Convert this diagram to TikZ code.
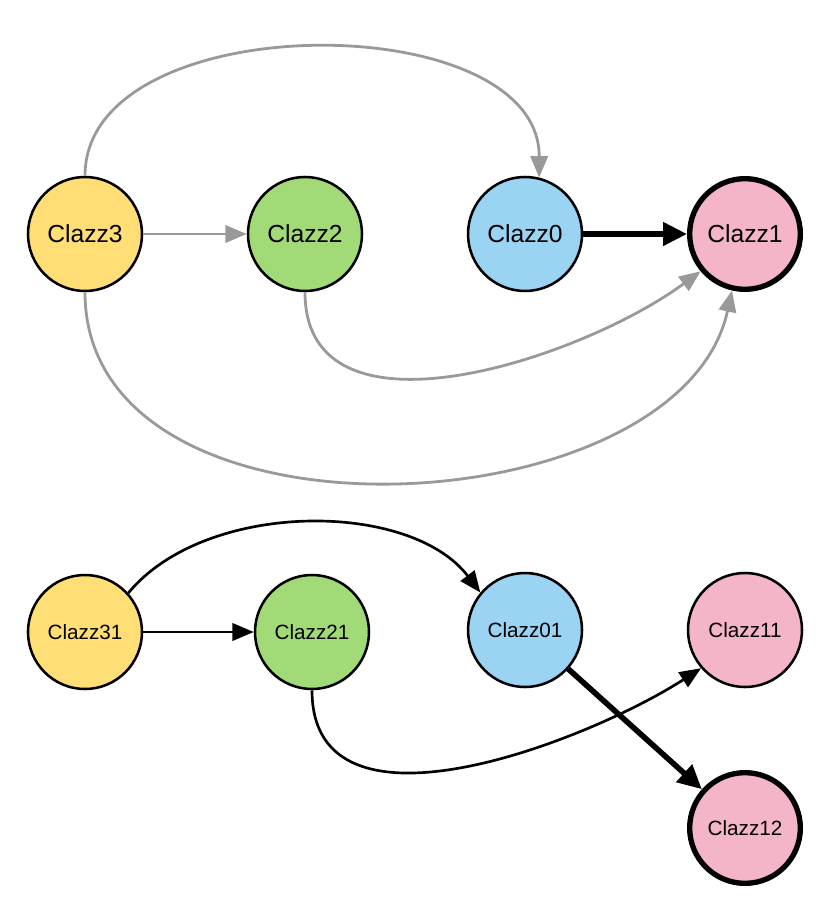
\documentclass[tikz,border=0pt]{standalone}
\usepackage{fontspec}
\setmainfont{Liberation Sans}
\usetikzlibrary{arrows.meta}
\definecolor{clyellow}{HTML}{FFDE75}
\definecolor{clgreen}{HTML}{A3DA78}
\definecolor{clblue}{HTML}{9BD3F3}
\definecolor{clpink}{HTML}{F4B5C8}
\definecolor{edgegray}{HTML}{999999}
\begin{document}
\begin{tikzpicture}[x=0.75pt,y=-0.75pt,
  cls/.style={circle,draw=black,line width=1.9pt,minimum size=85.5pt,inner sep=0pt},
  root/.style={cls,line width=4pt,minimum size=83pt},
  big/.style={font=\fontsize{18.5}{22}\selectfont},
  small/.style={font=\fontsize{15.5}{19}\selectfont},
  dep/.style={draw=edgegray,line width=2.1pt,-{Triangle[length=16pt,width=13pt]}},
  use/.style={draw=black,line width=2pt,-{Triangle[length=16pt,width=13pt]}},
  strong/.style={draw=black,line width=4.2pt,-{Triangle[length=18pt,width=17pt]}}]
\useasboundingbox (0,0) rectangle (830,916);
\node[cls,big,fill=clyellow] (c3) at (85,234) {Clazz3};
\node[cls,big,fill=clgreen] (c2) at (305,234) {Clazz2};
\node[cls,big,fill=clblue] (c0) at (525,234) {Clazz0};
\node[root,big,fill=clpink] (c1) at (745,234) {Clazz1};
\node[cls,small,fill=clyellow] (c31) at (85,632) {Clazz31};
\node[cls,small,fill=clgreen] (c21) at (312,632) {Clazz21};
\node[cls,small,fill=clblue] (c01) at (525,630) {Clazz01};
\node[cls,small,fill=clpink] (c11) at (745,630) {Clazz11};
\node[root,small,fill=clpink] (c12) at (745,828) {Clazz12};
\draw[dep] (c3)--(c2);
\draw[dep] (c3.90) .. controls (85,5) and (540,5) .. (c0.76);
\draw[strong] (c0)--(c1);
\draw[dep] (c2.270) .. controls (305,450) and (580,360) .. (c1.220);
\draw[dep] (c3.270) .. controls (85,560) and (680,530) .. (c1.257);
\draw[use] (c31)--(c21);
\draw[use] (c31.42) .. controls (205,500) and (410,500) .. (c01.140);
\draw[strong] (c01)--(c12);
\draw[use] (c21.270) .. controls (312,850) and (590,740) .. (c11.221);
\end{tikzpicture}
\end{document}
